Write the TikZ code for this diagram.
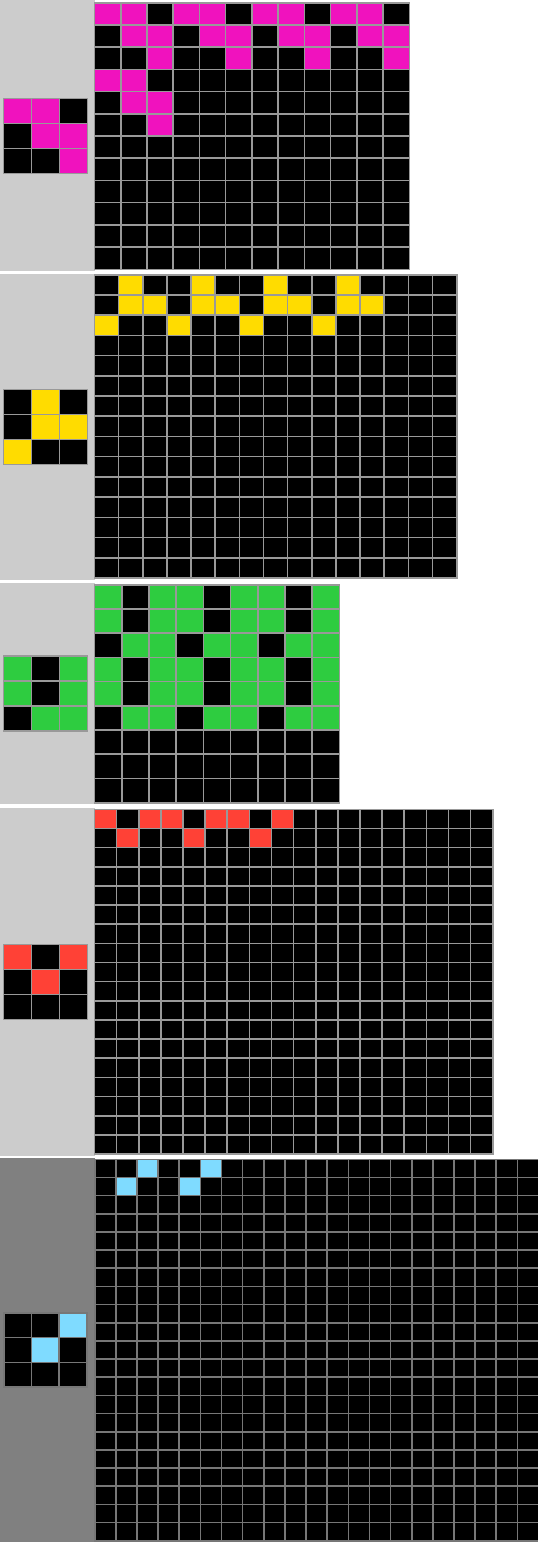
\documentclass[tikz,border=0pt]{standalone}
\definecolor{arcM}{HTML}{F012BE}
\definecolor{arcY}{HTML}{FFDC00}
\definecolor{arcG}{HTML}{2ECC40}
\definecolor{arcR}{HTML}{FF4136}
\definecolor{arcB}{HTML}{7FDBFF}
\definecolor{trainbg}{HTML}{CCCCCC}
\definecolor{testbg}{HTML}{808080}
\definecolor{trainline}{HTML}{999999}
\definecolor{testline}{HTML}{777777}
% #1 x0, #2 y0, #3 x1, #4 y1, #5 n, #6 fill colour, #7 line colour, #8 rows
\newcommand{\arcgrid}[8]{%
  \pgfmathsetmacro\agcw{(#3-#1)/#5}%
  \pgfmathsetmacro\agch{(#4-#2)/#5}%
  \fill[black] (#1,#2) rectangle (#3,#4);
  \foreach \agrow [count=\agr from 0] in {#8} {
    \foreach \agv [count=\agc from 0] in \agrow {
      \ifnum\agv=1 \fill[#6] ({#1+\agc*\agcw},{#2+\agr*\agch}) rectangle ({#1+(\agc+1)*\agcw},{#2+(\agr+1)*\agch}); \fi
    }
  }
  \foreach \agi in {0,...,#5} {
    \draw[gridline, #7] ({#1+\agi*\agcw},#2) -- ({#1+\agi*\agcw},#4);
    \draw[gridline, #7] (#1,{#2+\agi*\agch}) -- (#3,{#2+\agi*\agch});
  }
}
\tikzset{gridline/.style={line width=1.6, line cap=rect}}
\begin{document}
\begin{tikzpicture}[x=1pt,y=-1pt]
\useasboundingbox (0,0) rectangle (538,1542);
\fill[white] (0,0) rectangle (538,1542);
% left columns
\fill[trainbg] (0,0) rectangle (94.5,270.5);
\fill[trainbg] (0,273.5) rectangle (94.5,579.5);
\fill[trainbg] (0,583) rectangle (94.5,804);
\fill[trainbg] (0,807.5) rectangle (94.5,1155.5);
\fill[testbg] (0,1157.5) rectangle (94.5,1542);
% panel 1
\arcgrid{3.3}{98.3}{87.3}{173.3}{3}{arcM}{trainline}{{1,1,0},{0,1,1},{0,0,1}}
\arcgrid{94.5}{2.7}{409.3}{269.3}{12}{arcM}{trainline}{{1,1,0,1,1,0,1,1,0,1,1,0},{0,1,1,0,1,1,0,1,1,0,1,1},{0,0,1,0,0,1,0,0,1,0,0,1},{1,1,0},{0,1,1},{0,0,1}}
% panel 2
\arcgrid{3.3}{389.3}{87.3}{464.3}{3}{arcY}{trainline}{{0,1,0},{0,1,1},{1,0,0}}
\arcgrid{94.5}{274.7}{456.7}{578}{15}{arcY}{trainline}{{0,1,0,0,1,0,0,1,0,0,1,0},{0,1,1,0,1,1,0,1,1,0,1,1},{1,0,0,1,0,0,1,0,0,1,0,0}}
% panel 3
\arcgrid{3.3}{656}{87.3}{731}{3}{arcG}{trainline}{{1,0,1},{1,0,1},{0,1,1}}
\arcgrid{94.5}{584.7}{339.3}{802.7}{9}{arcG}{trainline}{{1,0,1,1,0,1,1,0,1},{1,0,1,1,0,1,1,0,1},{0,1,1,0,1,1,0,1,1},{1,0,1,1,0,1,1,0,1},{1,0,1,1,0,1,1,0,1},{0,1,1,0,1,1,0,1,1}}
% panel 4
\arcgrid{3.3}{944.3}{87.3}{1019.3}{3}{arcR}{trainline}{{1,0,1},{0,1,0},{0,0,0}}
\arcgrid{94.5}{809.3}{492.7}{1154}{18}{arcR}{trainline}{{1,0,1,1,0,1,1,0,1},{0,1,0,0,1,0,0,1,0}}
% panel 5 (test)
\arcgrid{3.8}{1313}{86.8}{1387}{3}{arcB}{testline}{{0,0,1},{0,1,0},{0,0,0}}
\arcgrid{94.7}{1159.3}{538.5}{1540.7}{21}{arcB}{testline}{{0,0,1,0,0,1},{0,1,0,0,1,0}}
\end{tikzpicture}
\end{document}
